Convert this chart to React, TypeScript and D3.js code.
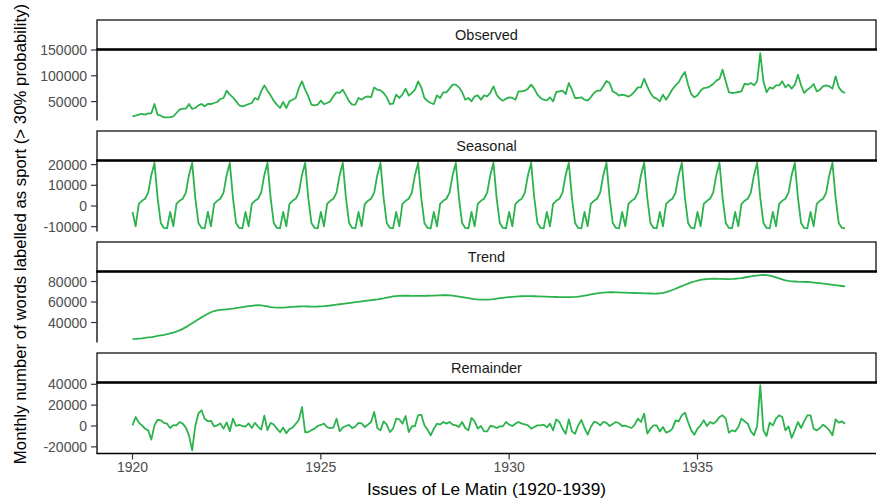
import React from "react";
import * as d3 from "d3";

const startYear = 1920;
const panelNames = ["Observed", "Seasonal", "Trend", "Remainder"];
const xTicks = [1920, 1925, 1930, 1935];
const xTitle = "Issues of Le Matin (1920-1939)";
const yTitle = "Monthly number of words labelled as sport (> 30% probability)";

const observed = [
  21400, 22700, 24700, 26000, 24700, 27300, 27300, 45300, 24700, 22700, 19500, 19500,
  20100, 21400, 27900, 34400, 36300, 36300, 45300, 35700, 37600, 42800, 45300, 40800,
  45300, 45300, 47300, 49200, 55000, 57000, 71200, 63400, 58300, 50500, 42800, 40800,
  42800, 45300, 47300, 57000, 53700, 69900, 81500, 71200, 62100, 51800, 44000, 37600,
  49200, 37600, 50500, 53700, 57000, 76300, 89300, 73100, 60200, 44000, 42800, 44000,
  51800, 45300, 47300, 50500, 60200, 68000, 66700, 73100, 62100, 50500, 44000, 44000,
  57000, 53700, 58300, 60000, 58300, 77600, 73100, 71800, 66700, 58300, 45300, 46000,
  63400, 57000, 63400, 75100, 61500, 66700, 73100, 89300, 77600, 57000, 51200, 47300,
  45300, 62100, 57000, 68000, 68000, 75100, 82800, 82800, 77600, 68600, 53700, 57000,
  50500, 60200, 62100, 53700, 62100, 60200, 66700, 79600, 63400, 55700, 51800, 55700,
  58300, 57000, 53700, 69900, 69900, 71200, 75100, 82800, 75100, 63400, 57000, 53700,
  52500, 58300, 50500, 68600, 69900, 71200, 64700, 86000, 73100, 57000, 57000, 58300,
  53700, 51800, 58300, 66700, 71200, 71200, 79600, 90000, 86000, 69900, 66700, 61500,
  63400, 62100, 59600, 63400, 69900, 77600, 77600, 94400, 79600, 66700, 58300, 55700,
  50500, 63400, 53700, 63400, 73800, 81500, 87300, 99000, 107400, 82800, 64700, 58300,
  62100, 71200, 76300, 77000, 79600, 84100, 90600, 93800, 111900, 89300, 68000, 66700,
  67300, 68600, 69900, 84800, 82800, 86000, 81500, 89300, 144000, 89300, 68000, 77600,
  75100, 81500, 81500, 89300, 77600, 82800, 75100, 82800, 102200, 81500, 66700, 73100,
  77600, 84100, 69900, 73100, 79600, 81500, 79600, 75100, 99000, 77600, 69900, 66700,
];

const seasonal = [
  -2900, -9800, 1000, 2500, 3500, 6500, 15000, 20800, 3900, -8200, -10600, -10800,
  -2900, -9800, 1000, 2500, 3500, 6500, 15000, 20800, 3900, -8200, -10600, -10800,
  -2900, -9800, 1000, 2500, 3500, 6500, 15000, 20800, 3900, -8200, -10600, -10800,
  -2900, -9800, 1000, 2500, 3500, 6500, 15000, 20800, 3900, -8200, -10600, -10800,
  -2900, -9800, 1000, 2500, 3500, 6500, 15000, 20800, 3900, -8200, -10600, -10800,
  -2900, -9800, 1000, 2500, 3500, 6500, 15000, 20800, 3900, -8200, -10600, -10800,
  -2900, -9800, 1000, 2500, 3500, 6500, 15000, 20800, 3900, -8200, -10600, -10800,
  -2900, -9800, 1000, 2500, 3500, 6500, 15000, 20800, 3900, -8200, -10600, -10800,
  -2900, -9800, 1000, 2500, 3500, 6500, 15000, 20800, 3900, -8200, -10600, -10800,
  -2900, -9800, 1000, 2500, 3500, 6500, 15000, 20800, 3900, -8200, -10600, -10800,
  -2900, -9800, 1000, 2500, 3500, 6500, 15000, 20800, 3900, -8200, -10600, -10800,
  -2900, -9800, 1000, 2500, 3500, 6500, 15000, 20800, 3900, -8200, -10600, -10800,
  -2900, -9800, 1000, 2500, 3500, 6500, 15000, 20800, 3900, -8200, -10600, -10800,
  -2900, -9800, 1000, 2500, 3500, 6500, 15000, 20800, 3900, -8200, -10600, -10800,
  -2900, -9800, 1000, 2500, 3500, 6500, 15000, 20800, 3900, -8200, -10600, -10800,
  -2900, -9800, 1000, 2500, 3500, 6500, 15000, 20800, 3900, -8200, -10600, -10800,
  -2900, -9800, 1000, 2500, 3500, 6500, 15000, 20800, 3900, -8200, -10600, -10800,
  -2900, -9800, 1000, 2500, 3500, 6500, 15000, 20800, 3900, -8200, -10600, -10800,
  -2900, -9800, 1000, 2500, 3500, 6500, 15000, 20800, 3900, -8200, -10600, -10800,
];

const trend = [
  23800, 24000, 24300, 24600, 25000, 25400, 25800, 26300, 26900, 27500, 28000, 28600,
  29300, 30200, 31200, 32300, 33800, 35500, 37400, 39300, 41200, 43100, 45000, 46800,
  48500, 50000, 51200, 51900, 52300, 52600, 52900, 53200, 53600, 54100, 54600, 55100,
  55500, 55900, 56300, 56700, 57000, 56800, 56300, 55700, 55100, 54700, 54500, 54500,
  54600, 54800, 55000, 55200, 55400, 55600, 55700, 55700, 55600, 55500, 55500, 55600,
  55800, 56000, 56300, 56600, 57000, 57400, 57800, 58200, 58600, 59000, 59400, 59800,
  60200, 60600, 61000, 61400, 61800, 62200, 62600, 63100, 63600, 64200, 64800, 65400,
  65800, 66000, 66100, 66100, 66100, 66000, 66000, 66000, 66000, 66000, 66100, 66200,
  66300, 66400, 66500, 66600, 66600, 66500, 66200, 65800, 65300, 64800, 64300, 63800,
  63300, 62900, 62600, 62400, 62300, 62400, 62600, 62900, 63300, 63700, 64100, 64500,
  64800, 65100, 65300, 65500, 65600, 65700, 65700, 65700, 65600, 65500, 65400, 65300,
  65200, 65100, 65000, 64900, 64800, 64700, 64700, 64700, 64800, 65000, 65300, 65700,
  66200, 66800, 67400, 68000, 68500, 68900, 69200, 69400, 69500, 69500, 69400, 69300,
  69200, 69100, 69000, 68900, 68800, 68700, 68600, 68500, 68400, 68300, 68200, 68300,
  68500, 69000, 69700, 70600, 71700, 72900, 74200, 75500, 76800, 78000, 79100, 80000,
  80800, 81500, 82000, 82400, 82600, 82700, 82700, 82600, 82500, 82400, 82400, 82500,
  82700, 83000, 83400, 83900, 84400, 84900, 85400, 85800, 86200, 86400, 86300, 85800,
  85000, 84000, 83000, 82000, 81200, 80600, 80200, 80000, 79800, 79700, 79600, 79500,
  79300, 79000, 78700, 78400, 78000, 77600, 77200, 76800, 76400, 76000, 75600, 75200,
];

const remainder = [
  640, 8650, 3200, 640, -2560, -4170, -13000, 640, 6000, 5500, 3000, 2240,
  -2000, 800, 640, 3800, 2240, -1500, -9000, -23400, 0, 12000, 15100, 7000,
  4500, 5000, -500, 640, 2500, -2560, 3500, -5000, 7000, 0, 1000, 0,
  -500, 2500, -2000, 3000, -500, -3500, 10000, -4000, 3000, 1500, -2560, -6000,
  -1500, -7000, -3000, -1500, 2000, 6000, 18000, -6000, -5800, -4000, -2560, 0,
  1000, 2240, -1000, -2000, -1500, 7000, -5000, -1500, 0, 1000, -2000, -500,
  3000, 2500, -1000, 1280, 3850, 13500, -1920, -4170, 4500, 1280, -5770, -2560,
  7050, 6400, 2240, 9600, -5770, -320, 0, 10250, 10900, 640, -3500, -8900,
  -2560, 2240, 1280, 3850, 2240, 3850, 1280, 640, -960, 3850, -1920, -4170,
  7700, 4500, -2560, 0, -5130, -5130, 0, -320, -1920, -320, -320, 3850,
  1280, 0, 2240, 3850, 2240, 1600, 640, -2560, -960, 640, 640, 1280,
  -1300, 2240, -4170, 6400, 3850, -2560, -7370, 6400, -5130, -7370, 640, 5800,
  -1920, -8330, -960, 3850, 3200, 640, 3850, 3000, 0, 2000, 3850, 2600,
  0, 320, -960, -1920, 1280, 7050, 3850, 11860, -7370, -2560, 640, 640,
  -5130, -960, -6400, -5130, -2560, 5450, 4500, 10250, 12800, 3850, -4170, -8330,
  -2560, 640, 5450, 0, 3850, 2240, 4500, 8650, 10250, 7050, -6400, -4170,
  -5130, -960, 7050, 4500, 2240, -5130, -8900, 0, 39100, -4170, -9600, 3200,
  640, 7050, 10250, 8650, -4170, -320, -11500, -4170, 3850, -1920, 4500, 10250,
  10250, -2560, -4170, -1920, 1280, -960, -4170, -8900, 6400, 3200, 4500, 2240,
];

const observedTicks = [50000, 100000, 150000];
const seasonalTicks = [-10000, 0, 10000, 20000];
const trendTicks = [40000, 60000, 80000];
const remainderTicks = [-20000, 0, 20000, 40000];

const observedDomain = [13370, 150970];
const seasonalDomain = [-12320, 21980];
const trendDomain = [20490, 89760];
const remainderDomain = [-26370, 41720];

const W = 877;
const H = 498;
const left = 97;
const right = 876;
const stripTop0 = 20;
const stripH = 29.5;
const panelH = 71;
const step = 111;
const lineColor = "#2cb34d";
const font = "'Liberation Sans', Arial, Helvetica, sans-serif";

export default function App() {
  const series = [observed, seasonal, trend, remainder];
  const ticks = [observedTicks, seasonalTicks, trendTicks, remainderTicks];
  const domains = [observedDomain, seasonalDomain, trendDomain, remainderDomain];

  const x = d3
    .scaleLinear()
    .domain([1920, 1935])
    .range([132.5, 697.5]);

  const lastBottom = stripTop0 + 3 * step + stripH + panelH;

  return (
    <svg
      width={W}
      height={H}
      style={{ position: "absolute", left: 0, top: 0, background: "#fff" }}
      fontFamily={font}
    >
      <rect x={0} y={0} width={W} height={H} fill="#fff" />
      {series.map((vals, k) => {
        const sTop = stripTop0 + k * step;
        const pTop = sTop + stripH;
        const pBot = pTop + panelH;
        const y = d3.scaleLinear().domain(domains[k]).range([pBot, pTop]);
        const line = d3
          .line<number>()
          .x((_, i) => x(startYear + i / 12))
          .y((d) => y(d));
        return (
          <g key={panelNames[k]}>
            <rect
              x={left}
              y={sTop}
              width={right - left}
              height={stripH}
              fill="#fff"
              stroke="#111"
              strokeWidth={1.3}
            />
            <line x1={left - 0.7} x2={right + 1} y1={pTop} y2={pTop} stroke="#000" strokeWidth={2.6} />
            <text
              x={(left + right) / 2}
              y={sTop + stripH / 2 + 5}
              textAnchor="middle"
              fontSize={14.5}
              fill="#1a1a1a"
            >
              {panelNames[k]}
            </text>
            <path d={line(vals) || ""} fill="none" stroke={lineColor} strokeWidth={1.8} strokeLinejoin="round" />
            <line x1={left} x2={left} y1={pTop} y2={pBot} stroke="#000" strokeWidth={1.3} />
            {ticks[k].map((t) => (
              <g key={t}>
                <line x1={left - 6} x2={left} y1={y(t)} y2={y(t)} stroke="#333" strokeWidth={1.2} />
                <text
                  x={left - 10}
                  y={y(t) + 5}
                  textAnchor="end"
                  fontSize={14}
                  fill="#4d4d4d"
                >
                  {String(t)}
                </text>
              </g>
            ))}
          </g>
        );
      })}
      <line x1={left - 0.6} x2={right} y1={lastBottom} y2={lastBottom} stroke="#000" strokeWidth={1.3} />
      {xTicks.map((t) => (
        <g key={t}>
          <line x1={x(t)} x2={x(t)} y1={lastBottom} y2={lastBottom + 6} stroke="#333" strokeWidth={1.2} />
          <text x={x(t)} y={lastBottom + 18.5} textAnchor="middle" fontSize={14} fill="#4d4d4d">
            {String(t)}
          </text>
        </g>
      ))}
      <text x={(left + right) / 2} y={495} textAnchor="middle" fontSize={17.3} fill="#000">
        {xTitle}
      </text>
      <text
        transform={`translate(26, 234) rotate(-90)`}
        textAnchor="middle"
        fontSize={16.8}
        fill="#000"
      >
        {yTitle}
      </text>
    </svg>
  );
}
